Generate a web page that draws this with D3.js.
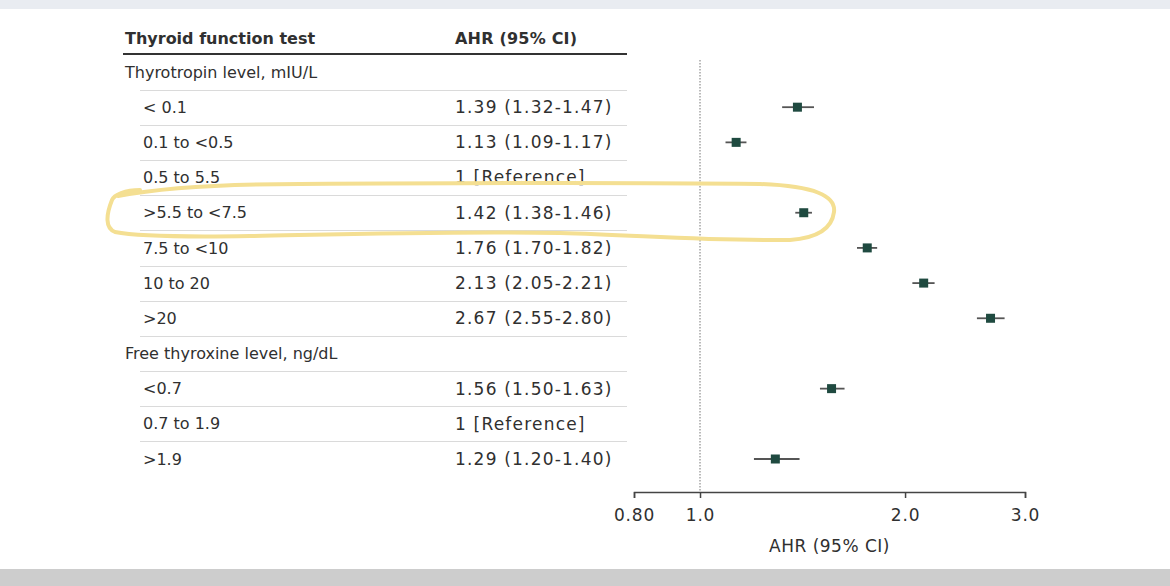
<!DOCTYPE html>
<html><head><meta charset="utf-8">
<script src="https://cdn.jsdelivr.net/npm/d3@7"></script>
<style>
html,body{margin:0;padding:0;background:#fff;}
svg{display:block;font-family:"DejaVu Sans",sans-serif;}
</style></head>
<body>
<svg id="chart" width="1170" height="586"></svg>
<script>
const rowLabels = ["Thyrotropin level, mIU/L","< 0.1","0.1 to <0.5","0.5 to 5.5",">5.5 to <7.5","7.5 to <10","10 to 20",">20","Free thyroxine level, ng/dL","<0.7","0.7 to 1.9",">1.9"];
const isGroup = [true,false,false,false,false,false,false,false,true,false,false,false];
const ahrText = ["","1.39 (1.32-1.47)","1.13 (1.09-1.17)","1 [Reference]","1.42 (1.38-1.46)","1.76 (1.70-1.82)","2.13 (2.05-2.21)","2.67 (2.55-2.80)","","1.56 (1.50-1.63)","1 [Reference]","1.29 (1.20-1.40)"];
const ahr   = [null,1.39,1.13,null,1.42,1.76,2.13,2.67,null,1.56,null,1.29];
const lower = [null,1.32,1.09,null,1.38,1.70,2.05,2.55,null,1.50,null,1.20];
const upper = [null,1.47,1.17,null,1.46,1.82,2.21,2.80,null,1.63,null,1.40];
const tickValues = [0.8,1.0,2.0,3.0];
const tickLabels = ["0.80","1.0","2.0","3.0"];
const headers = ["Thyroid function test","AHR (95% CI)"];
const axisTitle = "AHR (95% CI)";

const svg = d3.select("#chart");
const W = 1170, H = 586;
const textColor = "#303030";
const FS = 16;

// background bands
svg.append("rect").attr("x",0).attr("y",0).attr("width",W).attr("height",9).attr("fill","#e9ecf1");
svg.append("rect").attr("x",0).attr("y",569).attr("width",W).attr("height",H-569).attr("fill","#cdcdcd");

const idx = rowLabels.map((d,i)=>i);
const y = d3.scalePoint().domain(idx).range([72,459]);
const x = d3.scaleLog().domain([0.8,3.0]).range([634,1025]);

// header
const hdr = svg.append("g");
hdr.append("text").attr("x",125).attr("y",38).attr("dy","0.35em").attr("font-size",FS).attr("font-weight","bold").attr("fill",textColor).text(headers[0]);
hdr.append("text").attr("x",455).attr("y",38).attr("dy","0.35em").attr("font-size",FS).attr("font-weight","bold").attr("letter-spacing","0.2px").attr("fill",textColor).text(headers[1]);
hdr.append("line").attr("x1",123).attr("x2",627).attr("y1",54).attr("y2",54).attr("stroke","#333").attr("stroke-width",2);

// separators
const step = y.step();
svg.append("g").selectAll("line").data(idx.slice(0,-1)).join("line")
  .attr("x1",140).attr("x2",627)
  .attr("y1",d=>Math.round(y(d)+step/2)+0.5).attr("y2",d=>Math.round(y(d)+step/2)+0.5)
  .attr("stroke","#dadada").attr("stroke-width",1);

// labels
svg.append("g").selectAll("text").data(idx).join("text")
  .attr("x",d=>isGroup[d]?125:143).attr("y",d=>y(d)).attr("dy","0.35em")
  .attr("font-size",FS).attr("fill",textColor).text(d=>rowLabels[d]);
svg.append("g").selectAll("text").data(idx).join("text")
  .attr("x",455).attr("y",d=>y(d)).attr("dy","0.35em")
  .attr("font-size",17).attr("letter-spacing","1.2px").attr("fill",textColor).text(d=>ahrText[d]);

// reference line
svg.append("line").attr("x1",x(1)).attr("x2",x(1)).attr("y1",60).attr("y2",492)
  .attr("stroke","#777").attr("stroke-width",1).attr("stroke-dasharray","1.5,1.5");

// CIs and markers
const pts = idx.filter(i=>ahr[i]!==null);
svg.append("g").selectAll("line").data(pts).join("line")
  .attr("x1",d=>x(lower[d])).attr("x2",d=>x(upper[d]))
  .attr("y1",d=>y(d)).attr("y2",d=>y(d))
  .attr("stroke","#555").attr("stroke-width",1.8);
svg.append("g").selectAll("rect").data(pts).join("rect")
  .attr("x",d=>x(ahr[d])-4.5).attr("y",d=>y(d)-4.5).attr("width",9).attr("height",9)
  .attr("fill","#1f4a40");

// axis
const axis = d3.axisBottom(x).tickValues(tickValues).tickFormat((d,i)=>tickLabels[i]).tickSizeOuter(0).tickSize(6).tickPadding(11);
const ag = svg.append("g").attr("transform","translate(0,492)").call(axis);
ag.select(".domain").attr("stroke","#444").attr("stroke-width",1.5);
ag.selectAll(".tick line").attr("stroke","#444").attr("stroke-width",1.5);
ag.selectAll(".tick text").attr("font-size",17).attr("letter-spacing","0.8px").attr("fill",textColor).attr("font-family","DejaVu Sans, sans-serif");
svg.append("text").attr("x",(x(0.8)+x(3.0))/2).attr("y",546).attr("dy","0.35em").attr("text-anchor","middle")
  .attr("font-size",17).attr("letter-spacing","0.5px").attr("fill",textColor).text(axisTitle);

// hand-drawn highlight annotation
svg.append("path")
  .attr("d","M118,196 C160,188 220,184 300,184 C450,183 600,182 760,184 C815,186 836,196 834,212 C832,228 818,238 790,240 C700,241 640,235 560,233 C450,231 350,234 250,236 C190,237 140,237 115,232 C105,228 106,215 112,200 C114,195 125,190 140,190")
  .attr("fill","none").attr("stroke","#f4df92").attr("stroke-width",4).attr("stroke-linecap","round");
</script>
</body></html>
